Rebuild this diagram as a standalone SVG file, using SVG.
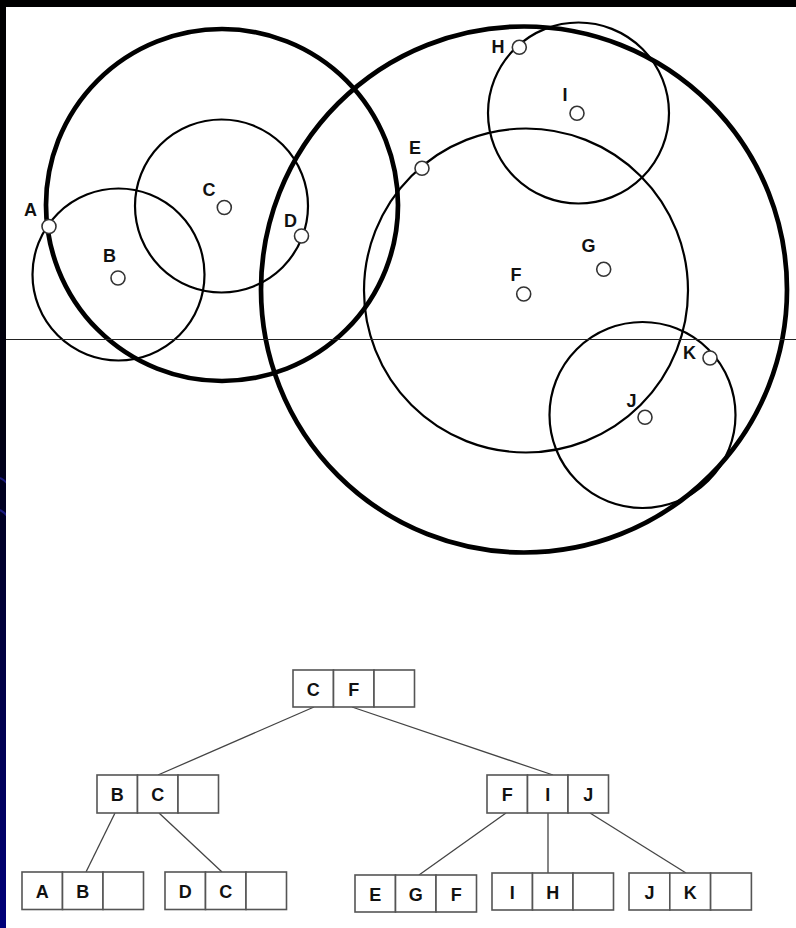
<svg xmlns="http://www.w3.org/2000/svg" width="796" height="928" viewBox="0 0 796 928">
<defs>
<linearGradient id="bg" x1="0" y1="0" x2="0" y2="1">
<stop offset="0" stop-color="#000000"/>
<stop offset="0.45" stop-color="#000010"/>
<stop offset="1" stop-color="#00007a"/>
</linearGradient>
<style>
.thick{fill:none;stroke:#000;stroke-width:4.7}
.thin{fill:none;stroke:#000;stroke-width:2.2}
.pt{fill:#fff;stroke:#333;stroke-width:1.6}
.lbl{font-family:"Liberation Sans",Arial,sans-serif;font-weight:bold;font-size:18px;fill:#111;text-anchor:middle}
.cell{fill:#fff;stroke:#555;stroke-width:1.6}
.ct{font-family:"Liberation Sans",Arial,sans-serif;font-weight:bold;font-size:18px;fill:#111;text-anchor:middle}
.edge{stroke:#444;stroke-width:1.3;fill:none}
</style>
</defs>
<rect x="0" y="0" width="796" height="928" fill="url(#bg)"/>
<path d="M0 478 Q4 480 7 483" stroke="#1a1a80" stroke-width="2" fill="none"/>
<path d="M0 510 Q4 512 7 516" stroke="#1a1a80" stroke-width="2" fill="none"/>
<rect x="6" y="7" width="790" height="921" fill="#fff"/>

<g id="circles">
<circle class="thick" cx="222" cy="205" r="176"/>
<circle class="thin" cx="118.5" cy="274.5" r="86"/>
<circle class="thin" cx="221.5" cy="206" r="86.5"/>
<circle class="thick" cx="524" cy="289.5" r="263"/>
<circle class="thin" cx="578.5" cy="113" r="90.5"/>
<circle class="thin" cx="526" cy="290.5" r="162"/>
<circle class="thin" cx="642.5" cy="415" r="93"/>
</g>
<line x1="6" y1="339.5" x2="796" y2="339.5" stroke="#222" stroke-width="1"/>

<g id="points">
<g id="pA"><circle class="pt" cx="49" cy="226.5" r="7"/><text class="lbl" x="30.5" y="216">A</text></g>
<g id="pB"><circle class="pt" cx="118" cy="278" r="7"/><text class="lbl" x="109.5" y="261.5">B</text></g>
<g id="pC"><circle class="pt" cx="224.3" cy="207.5" r="7"/><text class="lbl" x="209" y="195.5">C</text></g>
<g id="pD"><circle class="pt" cx="301.5" cy="236" r="7"/><text class="lbl" x="290.5" y="226.5">D</text></g>
<g id="pE"><circle class="pt" cx="422" cy="168.3" r="7"/><text class="lbl" x="415" y="153.5">E</text></g>
<g id="pF"><circle class="pt" cx="523.7" cy="294" r="7"/><text class="lbl" x="516" y="280.5">F</text></g>
<g id="pG"><circle class="pt" cx="603.7" cy="269.3" r="7"/><text class="lbl" x="588.5" y="252">G</text></g>
<g id="pH"><circle class="pt" cx="519.3" cy="47.3" r="7"/><text class="lbl" x="498" y="53">H</text></g>
<g id="pI"><circle class="pt" cx="577" cy="113.3" r="7"/><text class="lbl" x="565" y="100.5">I</text></g>
<g id="pJ"><circle class="pt" cx="645" cy="417.3" r="7"/><text class="lbl" x="631.5" y="406.5">J</text></g>
<g id="pK"><circle class="pt" cx="710" cy="358" r="7"/><text class="lbl" x="689.5" y="358.5">K</text></g>
</g>

<g id="connectors">
<line class="edge" x1="314" y1="707" x2="158" y2="775"/>
<line class="edge" x1="352" y1="707" x2="553" y2="775"/>
<line class="edge" x1="115" y1="813" x2="86" y2="872"/>
<line class="edge" x1="159" y1="813" x2="222" y2="872"/>
<line class="edge" x1="506" y1="813" x2="419" y2="875"/>
<line class="edge" x1="548" y1="813" x2="548" y2="873"/>
<line class="edge" x1="590" y1="813" x2="686" y2="873"/>
</g>

<g id="nCF">
<rect class="cell" x="293" y="670" width="40.5" height="37"/><rect class="cell" x="333.5" y="670" width="40.5" height="37"/><rect class="cell" x="374" y="670" width="40.5" height="37"/>
<text class="ct" x="313.3" y="695.5">C</text><text class="ct" x="353.8" y="695.5">F</text>
</g>
<g id="nBC">
<rect class="cell" x="97" y="775" width="40.5" height="38"/><rect class="cell" x="137.5" y="775" width="40.5" height="38"/><rect class="cell" x="178" y="775" width="40.5" height="38"/>
<text class="ct" x="117.3" y="800.5">B</text><text class="ct" x="157.8" y="800.5">C</text>
</g>
<g id="nFIJ">
<rect class="cell" x="487" y="775" width="40.5" height="38"/><rect class="cell" x="527.5" y="775" width="40.5" height="38"/><rect class="cell" x="568" y="775" width="40.5" height="38"/>
<text class="ct" x="507.3" y="800.5">F</text><text class="ct" x="547.8" y="800.5">I</text><text class="ct" x="588.3" y="800.5">J</text>
</g>
<g id="nAB">
<rect class="cell" x="22" y="872" width="40.5" height="37.5"/><rect class="cell" x="62.5" y="872" width="40.5" height="37.5"/><rect class="cell" x="103" y="872" width="40.5" height="37.5"/>
<text class="ct" x="42.3" y="897.5">A</text><text class="ct" x="82.8" y="897.5">B</text>
</g>
<g id="nDC">
<rect class="cell" x="165" y="872" width="40.5" height="37.5"/><rect class="cell" x="205.5" y="872" width="40.5" height="37.5"/><rect class="cell" x="246" y="872" width="40.5" height="37.5"/>
<text class="ct" x="185.3" y="897.5">D</text><text class="ct" x="225.8" y="897.5">C</text>
</g>
<g id="nEGF">
<rect class="cell" x="355" y="875" width="40.5" height="37"/><rect class="cell" x="395.5" y="875" width="40.5" height="37"/><rect class="cell" x="436" y="875" width="40.5" height="37"/>
<text class="ct" x="375.3" y="900.5">E</text><text class="ct" x="415.8" y="900.5">G</text><text class="ct" x="456.3" y="900.5">F</text>
</g>
<g id="nIH">
<rect class="cell" x="492" y="873" width="40.5" height="37"/><rect class="cell" x="532.5" y="873" width="40.5" height="37"/><rect class="cell" x="573" y="873" width="40.5" height="37"/>
<text class="ct" x="512.3" y="898.5">I</text><text class="ct" x="552.8" y="898.5">H</text>
</g>
<g id="nJK">
<rect class="cell" x="629" y="873" width="40.8" height="37"/><rect class="cell" x="669.8" y="873" width="40.8" height="37"/><rect class="cell" x="710.6" y="873" width="40.8" height="37"/>
<text class="ct" x="649.4" y="898.5">J</text><text class="ct" x="690.2" y="898.5">K</text>
</g>
</svg>
